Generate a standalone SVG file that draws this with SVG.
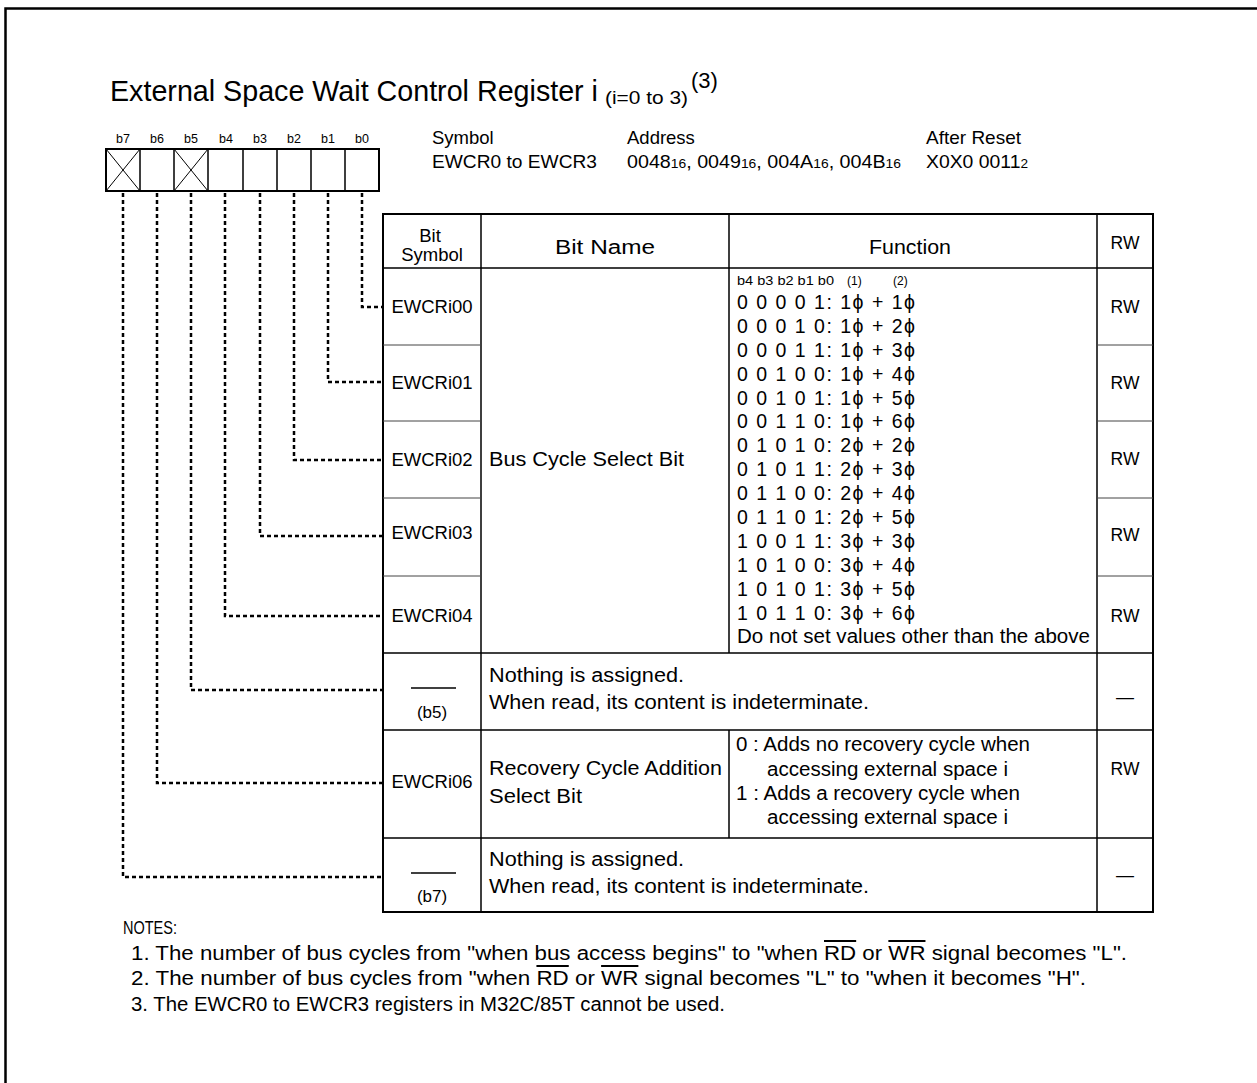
<svg xmlns="http://www.w3.org/2000/svg" width="1257" height="1083" viewBox="0 0 1257 1083">
<style>
text{font-family:"Liberation Sans",Arial,Helvetica,sans-serif;fill:#000}
.f12{font-size:12.5px}
.f18{font-size:18.5px}
.f20{font-size:20px}
.m{text-anchor:middle}
.tb{fill:none;stroke:#000;stroke-width:2}
.ln{fill:none;stroke:#000;stroke-width:1.5}
.thin{fill:none;stroke:#444;stroke-width:1}
.dot{fill:none;stroke:#000;stroke-width:2.5;stroke-dasharray:4 3}
.ov{text-decoration:overline}
</style>
<rect width="1257" height="1083" fill="#fff"/>
<path d="M5.5 1083 V8.5 H1257" fill="none" stroke="#000" stroke-width="2.5"/>

<g id="title">
<text x="110" y="101" font-size="29" textLength="488" lengthAdjust="spacingAndGlyphs">External Space Wait Control Register i</text>
<text x="605" y="104" font-size="19" textLength="83" lengthAdjust="spacingAndGlyphs">(i=0 to 3)</text>
<text x="691" y="88" font-size="22">(3)</text>
</g>

<g id="register">
<rect x="106" y="149" width="273" height="42" class="tb"/>
<path d="M140 149V191M174 149V191M208 149V191M243 149V191M277 149V191M311 149V191M345 149V191" class="ln"/>
<path d="M106 149L140 191M140 149L106 191M174 149L208 191M208 149L174 191" fill="none" stroke="#000" stroke-width="1"/>
<g class="f12 m">
<text x="123" y="143">b7</text>
<text x="157" y="143">b6</text>
<text x="191" y="143">b5</text>
<text x="226" y="143">b4</text>
<text x="260" y="143">b3</text>
<text x="294" y="143">b2</text>
<text x="328" y="143">b1</text>
<text x="362" y="143">b0</text>
</g>
</g>

<g id="info" class="f18">
<text x="432" y="144">Symbol</text>
<text x="432" y="168" textLength="165" lengthAdjust="spacingAndGlyphs">EWCR0 to EWCR3</text>
<text x="627" y="144">Address</text>
<text x="627" y="168" textLength="274" lengthAdjust="spacingAndGlyphs">0048<tspan font-size="13">16</tspan>, 0049<tspan font-size="13">16</tspan>, 004A<tspan font-size="13">16</tspan>, 004B<tspan font-size="13">16</tspan></text>
<text x="926" y="144" textLength="95" lengthAdjust="spacingAndGlyphs">After Reset</text>
<text x="926" y="168" textLength="102" lengthAdjust="spacingAndGlyphs">X0X0 0011<tspan font-size="13">2</tspan></text>
</g>

<g id="connectors">
<path d="M362 193V307H383" class="dot"/>
<path d="M328 193V382H383" class="dot"/>
<path d="M294 193V460H383" class="dot"/>
<path d="M260 193V536H383" class="dot"/>
<path d="M225 193V616H383" class="dot"/>
<path d="M191 193V690H383" class="dot"/>
<path d="M157 193V783H383" class="dot"/>
<path d="M123 193V877H383" class="dot"/>
</g>

<g id="table">
<rect x="383" y="214" width="770" height="698" class="tb"/>
<path d="M383 268H1153M383 653H1153M383 730H1153M383 838H1153" class="ln"/>
<path d="M481 214V912M1097 214V912M729 214V653M729 730V838" class="ln"/>
<path d="M383 345H481M383 421H481M383 498H481M383 576H481M1097 345H1153M1097 421H1153M1097 498H1153M1097 576H1153" class="thin"/>
</g>

<g id="header" class="f20 m">
<text x="430" y="242" font-size="18.5">Bit</text>
<text x="432" y="261" font-size="18.5">Symbol</text>
<text x="605" y="254" textLength="100" lengthAdjust="spacingAndGlyphs">Bit Name</text>
<text x="910" y="254" textLength="82" lengthAdjust="spacingAndGlyphs">Function</text>
<text x="1125" y="249" font-size="17.5">RW</text>
</g>

<g id="row-ewcri00" class="f18">
<text x="432" y="313" class="m">EWCRi00</text>
<text x="1125" y="313" class="m" font-size="17.5">RW</text>
</g>
<g id="row-ewcri01" class="f18">
<text x="432" y="389" class="m">EWCRi01</text>
<text x="1125" y="389" class="m" font-size="17.5">RW</text>
</g>
<g id="row-ewcri02" class="f18">
<text x="432" y="466" class="m">EWCRi02</text>
<text x="1125" y="465" class="m" font-size="17.5">RW</text>
<text x="489" y="466" font-size="20" textLength="195" lengthAdjust="spacingAndGlyphs">Bus Cycle Select Bit</text>
</g>
<g id="row-ewcri03" class="f18">
<text x="432" y="539" class="m">EWCRi03</text>
<text x="1125" y="541" class="m" font-size="17.5">RW</text>
</g>
<g id="row-ewcri04" class="f18">
<text x="432" y="622" class="m">EWCRi04</text>
<text x="1125" y="622" class="m" font-size="17.5">RW</text>
</g>

<g id="function-bus" style="font-size:19.5px">
<text x="737" y="285" font-size="12" textLength="97" lengthAdjust="spacingAndGlyphs">b4 b3 b2 b1 b0</text>
<text x="847" y="285" font-size="12">(1)</text>
<text x="893" y="285" font-size="12">(2)</text>
<text x="737" y="309" textLength="178">0 0 0 0 1: 1ϕ + 1ϕ</text>
<text x="737" y="333" textLength="178">0 0 0 1 0: 1ϕ + 2ϕ</text>
<text x="737" y="357" textLength="178">0 0 0 1 1: 1ϕ + 3ϕ</text>
<text x="737" y="381" textLength="178">0 0 1 0 0: 1ϕ + 4ϕ</text>
<text x="737" y="405" textLength="178">0 0 1 0 1: 1ϕ + 5ϕ</text>
<text x="737" y="428" textLength="178">0 0 1 1 0: 1ϕ + 6ϕ</text>
<text x="737" y="452" textLength="178">0 1 0 1 0: 2ϕ + 2ϕ</text>
<text x="737" y="476" textLength="178">0 1 0 1 1: 2ϕ + 3ϕ</text>
<text x="737" y="500" textLength="178">0 1 1 0 0: 2ϕ + 4ϕ</text>
<text x="737" y="524" textLength="178">0 1 1 0 1: 2ϕ + 5ϕ</text>
<text x="737" y="548" textLength="178">1 0 0 1 1: 3ϕ + 3ϕ</text>
<text x="737" y="572" textLength="178">1 0 1 0 0: 3ϕ + 4ϕ</text>
<text x="737" y="596" textLength="178">1 0 1 0 1: 3ϕ + 5ϕ</text>
<text x="737" y="620" textLength="178">1 0 1 1 0: 3ϕ + 6ϕ</text>
<text x="737" y="643" textLength="353" lengthAdjust="spacingAndGlyphs">Do not set values other than the above</text>
</g>

<g id="row-b5" class="f20">
<path d="M411 688H456" class="ln"/>
<text x="432" y="718" class="m" font-size="17">(b5)</text>
<text x="489" y="682" textLength="195" lengthAdjust="spacingAndGlyphs">Nothing is assigned.</text>
<text x="489" y="709" textLength="380" lengthAdjust="spacingAndGlyphs">When read, its content is indeterminate.</text>
<text x="1125" y="703" class="m" font-size="18">—</text>
</g>

<g id="row-ewcri06" class="f20">
<text x="432" y="788" class="m f18">EWCRi06</text>
<text x="489" y="775" textLength="233" lengthAdjust="spacingAndGlyphs">Recovery Cycle Addition</text>
<text x="489" y="803" textLength="93" lengthAdjust="spacingAndGlyphs">Select Bit</text>
<text x="736" y="751" textLength="294" lengthAdjust="spacingAndGlyphs">0 : Adds no recovery cycle when</text>
<text x="767" y="776" textLength="241" lengthAdjust="spacingAndGlyphs">accessing external space i</text>
<text x="736" y="800" textLength="284" lengthAdjust="spacingAndGlyphs">1 : Adds a recovery cycle when</text>
<text x="767" y="824" textLength="241" lengthAdjust="spacingAndGlyphs">accessing external space i</text>
<text x="1125" y="775" class="m" font-size="17.5">RW</text>
</g>

<g id="row-b7" class="f20">
<path d="M411 873H456" class="ln"/>
<text x="432" y="902" class="m" font-size="17">(b7)</text>
<text x="489" y="866" textLength="195" lengthAdjust="spacingAndGlyphs">Nothing is assigned.</text>
<text x="489" y="893" textLength="380" lengthAdjust="spacingAndGlyphs">When read, its content is indeterminate.</text>
<text x="1125" y="881" class="m" font-size="18">—</text>
</g>

<g id="notes" class="f20">
<text x="123" y="934" font-size="18" textLength="54" lengthAdjust="spacingAndGlyphs">NOTES:</text>
<text x="131" y="960" textLength="996" lengthAdjust="spacingAndGlyphs">1. The number of bus cycles from "when bus access begins" to "when <tspan class="ov">RD</tspan> or <tspan class="ov">WR</tspan> signal becomes "L".</text>
<text x="131" y="985" textLength="955" lengthAdjust="spacingAndGlyphs">2. The number of bus cycles from "when <tspan class="ov">RD</tspan> or <tspan class="ov">WR</tspan> signal becomes "L" to "when it becomes "H".</text>
<text x="131" y="1011" textLength="594" lengthAdjust="spacingAndGlyphs">3. The EWCR0 to EWCR3 registers in M32C/85T cannot be used.</text>
</g>
</svg>
